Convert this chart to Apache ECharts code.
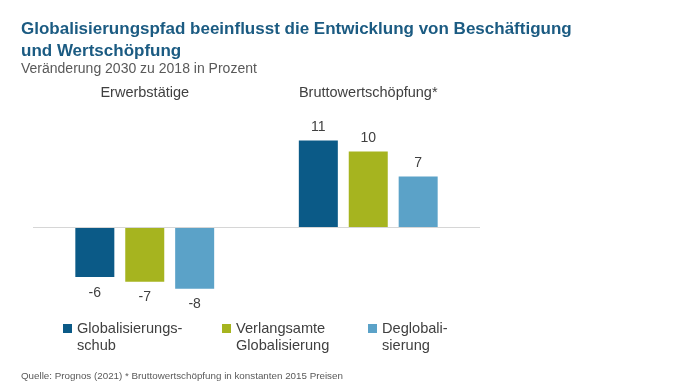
<!DOCTYPE html>
<html><head><meta charset="utf-8">
<script src="https://cdn.jsdelivr.net/npm/echarts@6/dist/echarts.min.js"></script>
<style>html,body{margin:0;padding:0;background:#fff}#c{width:696px;height:392px}</style>
</head><body><div id="c"></div>
<script>
const categories = ['Erwerbstätige', 'Bruttowertschöpfung*'];
const seriesNames = ['Globalisierungs-\nschub', 'Verlangsamte\nGlobalisierung', 'Deglobali-\nsierung'];
const valuesGlobSchub = [-6.4, 11.1];
const valuesVerlangsamt = [-7.0, 9.7];
const valuesDeglob = [-7.9, 6.5];
const labelsGlobSchub = ['-6', '11'];
const labelsVerlangsamt = ['-7', '10'];
const labelsDeglob = ['-8', '7'];
const colors = ['#0b5a87', '#a6b41f', '#5ba2c8'];

const FONT = '"Liberation Sans", Arial, sans-serif';
const chart = echarts.init(document.getElementById('c'));
const allData = [valuesGlobSchub, valuesVerlangsamt, valuesDeglob];
const allLabels = [labelsGlobSchub, labelsVerlangsamt, labelsDeglob];
const legendLeft = [63, 222, 368];

const series = allData.map((d, i) => ({
  name: seriesNames[i], type: 'bar', barWidth: 39, barGap: '28%',
  itemStyle: {color: colors[i]},
  data: d.map(v => ({value: v, label: {position: v < 0 ? 'bottom' : 'top', distance: v < 0 ? 9 : 6}})),
  label: {show: true, fontFamily: FONT, fontSize: 14, color: '#404040',
    formatter: p => allLabels[i][p.dataIndex]}
}));
series[0].markLine = {
  silent: true, symbol: 'none', label: {show: false},
  lineStyle: {color: '#d6d6d6', width: 1, type: 'solid'},
  data: [{yAxis: 0}]
};

chart.setOption({
  animation: false,
  textStyle: {fontFamily: FONT},
  title: [
    {text: 'Globalisierungspfad beeinflusst die Entwicklung von Beschäftigung\nund Wertschöpfung', left: 21, top: 18, padding: 0,
     textStyle: {fontFamily: FONT, fontSize: 17, fontWeight: 'bold', color: '#1b5b82', lineHeight: 22}},
    {text: 'Veränderung 2030 zu 2018 in Prozent', left: 21, top: 62, padding: 0,
     textStyle: {fontFamily: FONT, fontSize: 14, fontWeight: 'normal', color: '#595959'}},
    {text: 'Quelle: Prognos (2021) * Bruttowertschöpfung in konstanten 2015 Preisen', left: 21, top: 371, padding: 0,
     textStyle: {fontFamily: FONT, fontSize: 9.8, fontWeight: 'normal', color: '#595959'}}
  ],
  legend: seriesNames.map((n, i) => ({
    data: [n], left: legendLeft[i], top: 303, padding: 0, icon: 'rect', itemWidth: 9, itemHeight: 9, itemGap: 0,
    selectedMode: false,
    formatter: name => '\n' + name,
    textStyle: {fontFamily: FONT, fontSize: 14.6, color: '#404040', lineHeight: 17}
  })),
  grid: {left: 33, right: 216, top: 118, bottom: 87},
  xAxis: {type: 'category', data: categories, position: 'top', axisLine: {show: false}, axisTick: {show: false},
     axisLabel: {margin: 18, fontSize: 14.5, color: '#404040', fontFamily: FONT}},
  yAxis: {type: 'value', min: -10, max: 14, show: false, splitLine: {show: false}},
  series: series
});
</script></body></html>
